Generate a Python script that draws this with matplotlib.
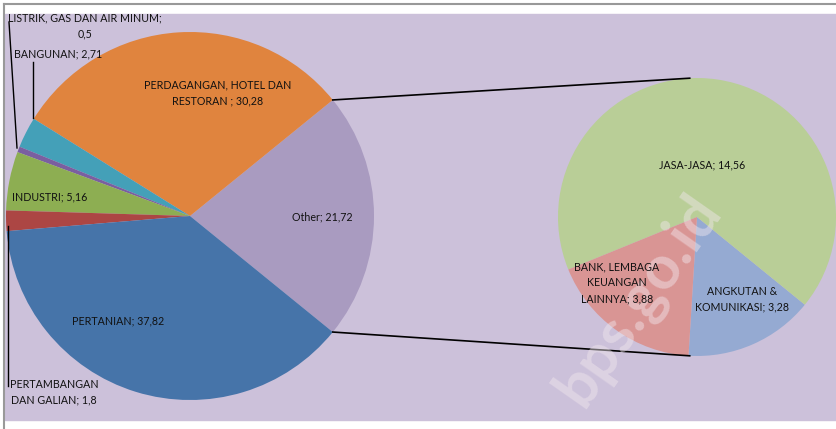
import numpy as np
import matplotlib.pyplot as plt
from matplotlib.patches import Rectangle

# main pie (counterclockwise from the right-hand "Other" slice)
main_labels = ['Other', 'PERDAGANGAN, HOTEL DAN\nRESTORAN', 'BANGUNAN',
               'LISTRIK, GAS DAN AIR MINUM;\n', 'INDUSTRI',
               'PERTAMBANGAN\nDAN GALIAN', 'PERTANIAN']
main_values = [21.72, 30.28, 2.71, 0.5, 5.16, 1.8, 37.82]
main_colors = ['#A99BC0', '#E0843E', '#44A0B8', '#7A5FA0', '#8DAE52', '#AC4644', '#4674A9']

# secondary pie (breakdown of "Other")
sub_labels = ['ANGKUTAN &\nKOMUNIKASI', 'JASA-JASA', 'BANK, LEMBAGA\nKEUANGAN\nLAINNYA']
sub_values = [3.28, 14.56, 3.88]
sub_colors = ['#95AAD2', '#B9CE97', '#D99594']

W, H = 837, 429
fig = plt.figure(figsize=(W / 100, H / 100), dpi=100)
ax = fig.add_axes([0, 0, 1, 1])
plt.rcParams['font.family'] = ['Lato', 'DejaVu Sans']

def py(y):
    return H - y

# background
ax.add_patch(Rectangle((5, py(420)), W - 5, 406, color='#CCC1DA', zorder=0))
ax.plot([4, W], [py(4), py(4)], color='#999999', lw=1.5, zorder=1)
ax.plot([4, 4], [py(4), py(429)], color='#999999', lw=1.5, zorder=1)

c1 = (190, py(216))
r1 = 184
c2 = (697, py(217))
r2 = 139

frac = main_values[0] / sum(main_values) * 360
ax.pie(main_values, colors=main_colors, startangle=-frac / 2, counterclock=True,
       center=c1, radius=r1, frame=True, wedgeprops=dict(linewidth=0))
ax.pie(sub_values, colors=sub_colors, startangle=266.5, counterclock=True,
       center=c2, radius=r2, frame=True, wedgeprops=dict(linewidth=0))

# connector lines
for a1, a2 in [(frac / 2, 93), (-frac / 2, 267)]:
    x1 = c1[0] + r1 * np.cos(np.radians(a1))
    y1 = c1[1] + r1 * np.sin(np.radians(a1))
    x2 = c2[0] + r2 * np.cos(np.radians(a2))
    y2 = c2[1] + r2 * np.sin(np.radians(a2))
    ax.plot([x1, x2], [y1, y2], color='black', lw=1.2, zorder=5)

fs = 7.7
def lbl(x, y, s, ha='center'):
    ax.text(x, py(y), s, ha=ha, va='center', fontsize=fs, color='#111111',
            linespacing=1.55, zorder=6)

lbl(218, 93, 'PERDAGANGAN, HOTEL DAN\nRESTORAN ; 30,28')
lbl(322, 217, 'Other; 21,72')
lbl(118, 321, 'PERTANIAN; 37,82')
lbl(50, 197, 'INDUSTRI; 5,16')
lbl(58, 54, 'BANGUNAN; 2,71')
lbl(85, 26, 'LISTRIK, GAS DAN AIR MINUM;\n0,5')
lbl(54, 392, 'PERTAMBANGAN\nDAN GALIAN; 1,8')
lbl(702, 165, 'JASA-JASA; 14,56')
lbl(617, 283, 'BANK, LEMBAGA\nKEUANGAN\nLAINNYA; 3,88')
lbl(742, 299, 'ANGKUTAN &\nKOMUNIKASI; 3,28')

# leader lines
ax.plot([33, 33], [py(62), py(118)], color='black', lw=1, zorder=5)
ax.plot([9, 17], [py(22), py(148)], color='black', lw=1, zorder=5)
ax.plot([8, 8], [py(226), py(386)], color='black', lw=1, zorder=5)

# watermark (behind the labels)
ax.text(638, py(300), 'bps.go.id', rotation=55, ha='center', va='center',
        fontsize=44, fontweight='bold', color='#F2E8EE', alpha=0.45, zorder=5.5)

ax.set_xlim(0, W)
ax.set_ylim(0, H)
ax.set_aspect('auto')
ax.axis('off')
fig.savefig('out.png', dpi=100)
